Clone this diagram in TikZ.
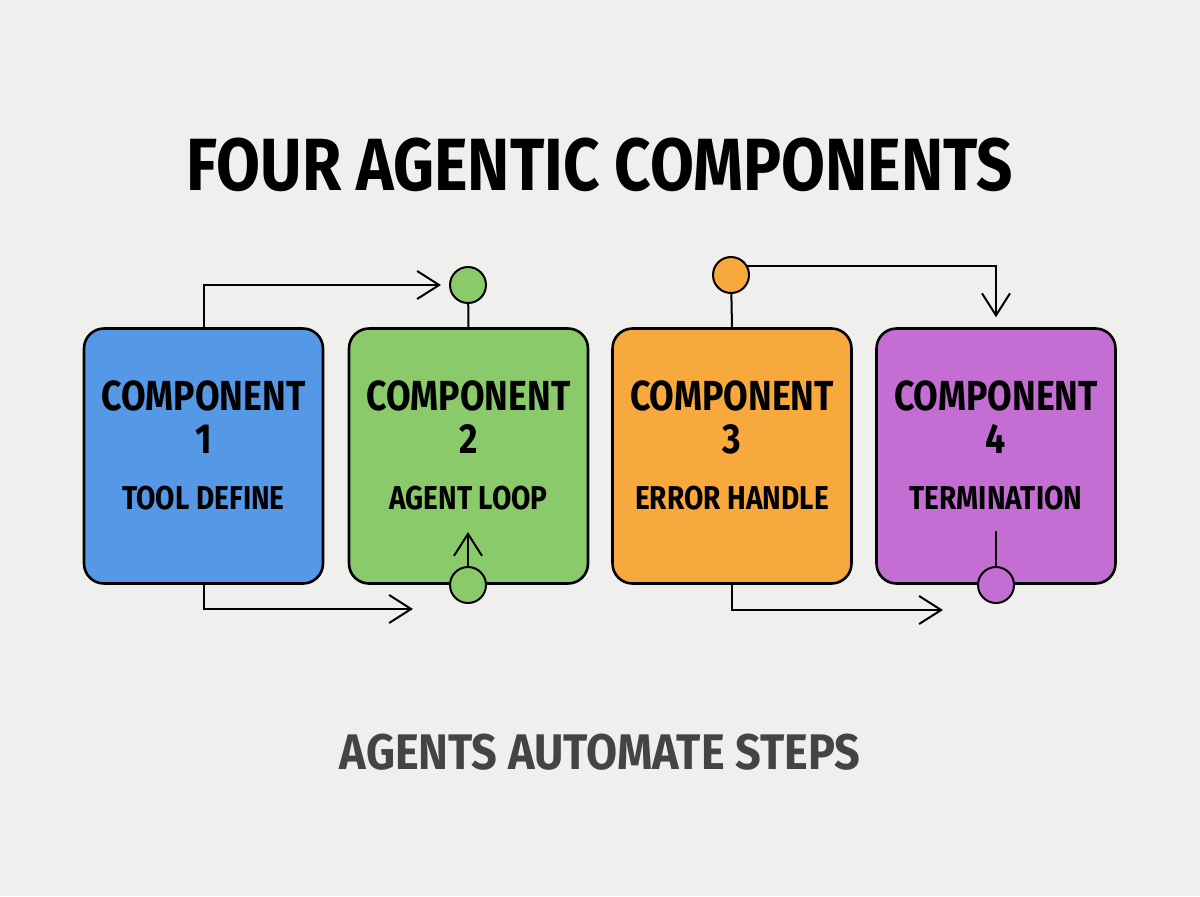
\documentclass[tikz,border=0pt]{standalone}
\usepackage{fontspec}
\usetikzlibrary{arrows.meta}
\setmainfont{Fira Sans}
\newfontfamily\narrowfont{Fira Sans}[FakeStretch=0.85]
\newfontfamily\titlefont{Fira Sans}[FakeStretch=0.86]
\newfontfamily\subfont{Fira Sans}[FakeStretch=0.9]
\definecolor{bgcol}{HTML}{EFEFED}
\definecolor{cblue}{HTML}{5598E6}
\definecolor{cgreen}{HTML}{8ACA6A}
\definecolor{corange}{HTML}{F7A93E}
\definecolor{cpurple}{HTML}{C46ED4}
\definecolor{subgray}{HTML}{444444}

\begin{document}
\begin{tikzpicture}[x=0.5pt,y=-0.5pt,
    compbox/.style ={rectangle, rounded corners=10pt, draw, line width=1.3pt,
      minimum width=119.5pt, minimum height=127.5pt},
    joint/.style ={circle, draw, line width=1pt, minimum size=18pt, inner sep=0pt},
    conn/.style ={line width=1pt},
    tip/.style ={-{Straight Barb[length=11pt,width=14pt]}},
    heading/.style ={font=\narrowfont\bfseries\fontsize{21}{24}\selectfont},
    caption/.style ={font=\narrowfont\bfseries\fontsize{16.5}{19}\selectfont}]
   \fill[bgcol] (0,0) rectangle (1200,896);
   \useasboundingbox (0,0) rectangle (1200,896);

   \node[font=\titlefont\bfseries\fontsize{37}{40}\selectfont] (title) at (600,165) {FOUR AGENTIC COMPONENTS};

   \foreach \i/\x/\col/\lab in {1/203.5/cblue/TOOL DEFINE, 2/468.5/cgreen/AGENT LOOP,
                                3/732/corange/ERROR HANDLE, 4/996/cpurple/TERMINATION}{
     \node[compbox, fill=\col] (C\i) at (\x,456) {};
     \node[heading] (H\i) at (\x,396) {COMPONENT};
     \node[heading] (N\i) at (\x,439) {\i};
     \node[caption] (L\i) at (\x,498) {\lab};
   }

   \node[joint, fill=cgreen] (G2) at (468,285) {};
   \node[joint, fill=cgreen] (G2b) at (468,585) {};
   \node[joint, fill=corange] (O3) at (731,275) {};
   \node[joint, fill=cpurple] (P4) at (996,585) {};

   \coordinate (E1) at (413,609);
   \coordinate (U2) at (468,532);
   \coordinate (E3) at (943,610);
   \coordinate (D4) at (996,531);

   \draw[conn, tip] (C1.north) |- ([xshift=-4pt]G2.west);
   \draw[conn] (G2) -- (C2.north);
   \draw[conn, tip] (C1.south) |- (E1);
   \draw[conn, tip] (G2b) -- (U2);
   \draw[conn] (O3) -- (C3.north);
   \draw[conn, tip] (O3.30) -| ([yshift=5pt]C4.north);
   \draw[conn, tip] (C3.south) |- (E3);
   \draw[conn] (D4) -- (P4);

   \node[font=\subfont\bfseries\fontsize{25}{28}\selectfont, text=subgray] (sub) at (600,752) {AGENTS AUTOMATE STEPS};
 \end{tikzpicture}
\end{document}
